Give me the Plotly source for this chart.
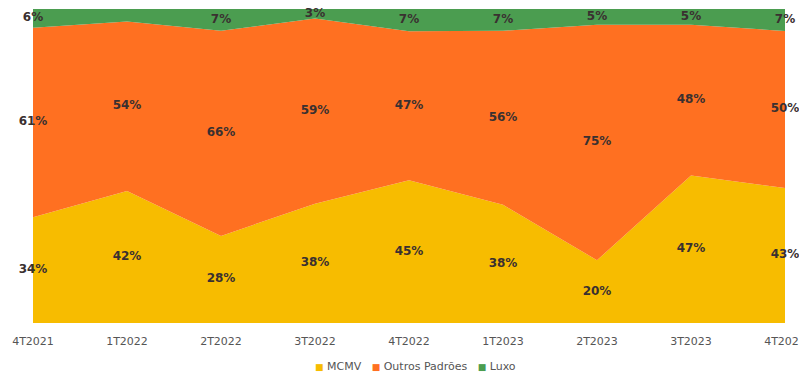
import plotly.graph_objects as go

# Quarterly mix of launches by segment (% of total)
quarters = ["4T2021", "1T2022", "2T2022", "3T2022", "4T2022",
            "1T2023", "2T2023", "3T2023", "4T2023"]
mcmv = [34, 42, 28, 38, 45, 38, 20, 47, 43]
outros = [61, 54, 66, 59, 47, 56, 75, 48, 50]
luxo = [6, 4, 7, 3, 7, 7, 5, 5, 7]
luxo_shown = [True, False, True, True, True, True, True, True, True]

series = [
    ("MCMV", mcmv, "#F7BC00"),
    ("Outros Padrões", outros, "#FF7021"),
    ("Luxo", luxo, "#4B9D50"),
]

x = list(range(len(quarters)))
fig = go.Figure()

for name, vals, color in series:
    fig.add_trace(go.Scatter(
        x=x, y=vals, name=name, mode="lines",
        stackgroup="one", groupnorm="percent",
        line=dict(width=0, color=color), fillcolor=color,
        hoverinfo="skip", showlegend=False,
    ))

# Labels at the vertical middle of each band (normalised stack)
lx, ly, lt = [], [], []
for i in x:
    total = mcmv[i] + outros[i] + luxo[i]
    base = 0.0
    for name, vals, _ in series:
        h = vals[i] / total * 100
        show = luxo_shown[i] if name == "Luxo" else True
        if show:
            lx.append(i)
            ly.append(base + h / 2)
            lt.append(f"<b>{vals[i]}%</b>")
        base += h

fig.add_trace(go.Scatter(
    x=lx, y=ly, text=lt, mode="text", showlegend=False,
    textfont=dict(family="DejaVu Sans", size=12, color="#3a3030"),
    cliponaxis=False, hoverinfo="skip",
))

# Compact legend: small coloured squares followed by series names
legend_text = "   ".join(
    f"<span style='color:{c};font-size:9px'>■</span> {n}" for n, _, c in series
)
fig.add_annotation(
    text=legend_text, xref="paper", yref="paper", x=0.509, y=-0.137,
    xanchor="center", yanchor="middle", showarrow=False,
    font=dict(family="DejaVu Sans", size=11, color="#555"),
)

fig.update_layout(
    width=799, height=373,
    margin=dict(l=33, r=14, t=9, b=50, autoexpand=False),
    paper_bgcolor="white", plot_bgcolor="white",
    showlegend=False,
    xaxis=dict(range=[0, 8], tickvals=x, ticktext=quarters,
               showgrid=False, zeroline=False, showline=False,
               ticks="outside", ticklen=8, tickcolor="rgba(0,0,0,0)",
               ticklabeloverflow="allow", automargin=False,
               tickfont=dict(family="DejaVu Sans", size=11, color="#555")),
    yaxis=dict(range=[0, 100], visible=False, showgrid=False),
)

fig.write_html("out.html")
